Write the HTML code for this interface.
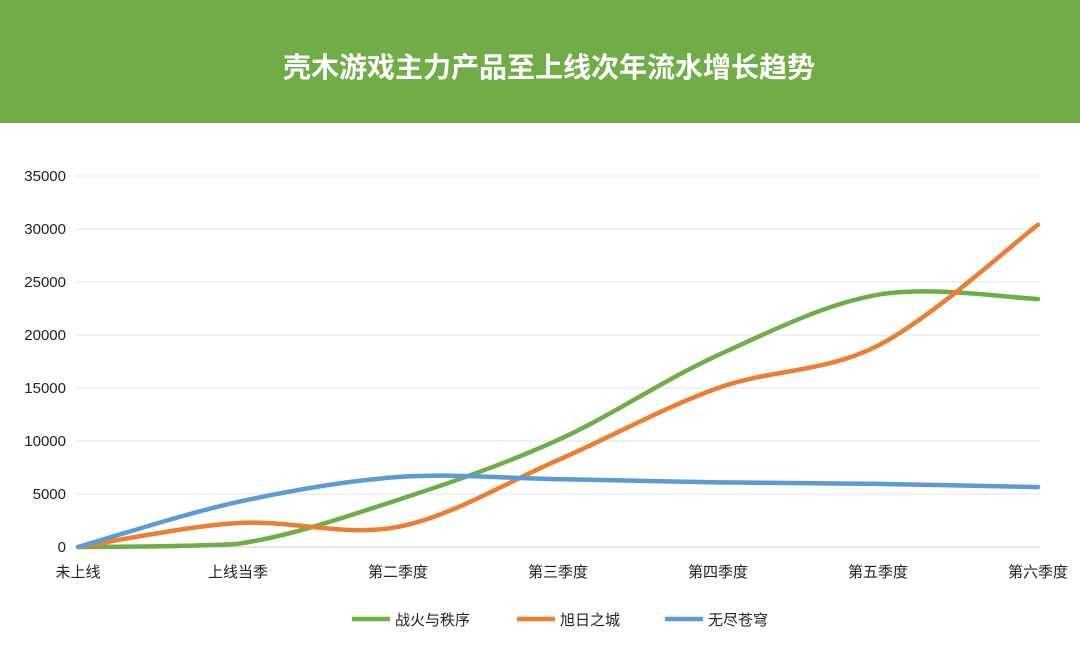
<!DOCTYPE html>
<html><head><meta charset="utf-8"><style>
body{margin:0;width:1080px;height:658px;background:#fff;overflow:hidden;font-family:"Liberation Sans","Noto Sans CJK SC",sans-serif}
.hd{position:absolute;left:0;top:0;width:1062px;padding-left:18px;height:123px;background:#70ad47;color:#fff;font-weight:bold;font-size:28px;text-align:center;line-height:136px}
svg{position:absolute;left:0;top:0}
</style></head><body>
<div class="hd">壳木游戏主力产品至上线次年流水增长趋势</div>
<svg width="1080" height="658" id="s" font-family="Liberation Sans, Noto Sans CJK SC, sans-serif"></svg>
<script>
var s=document.getElementById('s'),h='';
function Y(v){return 547-v*53/5000}
for(var i=0;i<=7;i++){var y=Y(i*5000);h+='<line x1="76" x2="1040" y1="'+y+'" y2="'+y+'" stroke="'+(i?'#e3e3e3':'#d0d0d0')+'"/>';h+='<text x="66" y="'+(y+5)+'" font-size="15" text-anchor="end" fill="#222">'+(i*5000)+'</text>';}
var cats=['未上线','上线当季','第二季度','第三季度','第四季度','第五季度','第六季度'];
cats.forEach(function(c,i){h+='<text x="'+(78+160*i)+'" y="577" font-size="15" text-anchor="middle" fill="#222">'+c+'</text>'});
var ser=[['#70ad47',[0,300,4450,10100,18100,23800,23400]],['#ed7d31',[0,2260,1900,8200,15000,19000,30400]],['#5b9bd5',[0,4250,6600,6400,6100,5950,5650]]];
function C(y){return Math.min(y,547)}
ser.forEach(function(se){var p=se[1].map(function(v,i){return[78+160*i,Y(v)]});var d='M'+p[0];
for(var i=0;i<p.length-1;i++){var p0=p[i-1]||p[i],p1=p[i],p2=p[i+1],p3=p[i+2]||p2,t=6;
d+=' C'+(p1[0]+(p2[0]-p0[0])/t)+','+C(p1[1]+(p2[1]-p0[1])/t)+' '+(p2[0]-(p3[0]-p1[0])/t)+','+C(p2[1]-(p3[1]-p1[1])/t)+' '+p2[0]+','+p2[1];}
h+='<path d="'+d+'" fill="none" stroke="'+se[0]+'" stroke-width="4.5" stroke-linecap="round"/>';});
var lg=[[352,'战火与秩序'],[517,'旭日之城'],[665,'无尽苍穹']];
lg.forEach(function(l,i){h+='<line x1="'+l[0]+'" x2="'+(l[0]+38)+'" y1="619" y2="619" stroke="'+ser[i][0]+'" stroke-width="4.5"/><text x="'+(l[0]+43)+'" y="625" font-size="15" fill="#222">'+l[1]+'</text>'});
s.innerHTML=h;
</script>
</body></html>
